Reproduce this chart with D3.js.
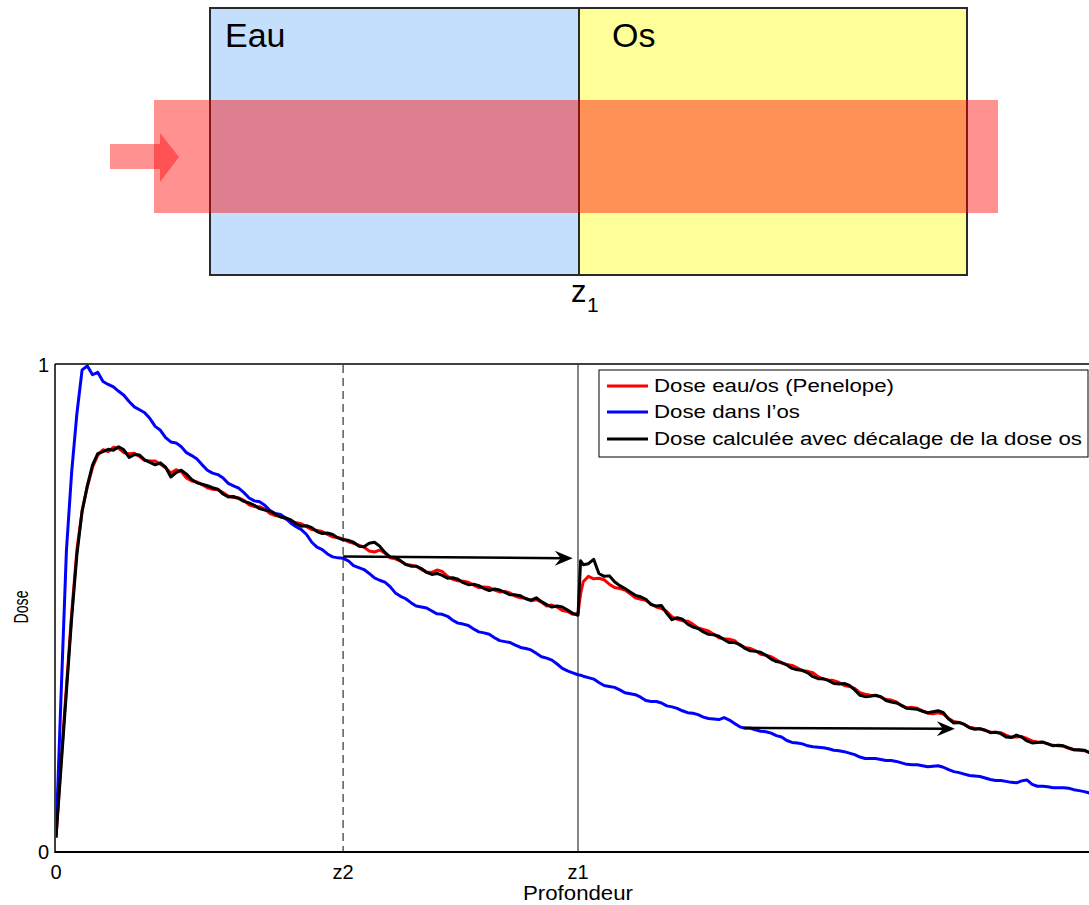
<!DOCTYPE html>
<html><head><meta charset="utf-8">
<script src="https://cdn.jsdelivr.net/npm/d3@7/dist/d3.min.js"></script>
<style>body{margin:0;background:#fff}svg{display:block}text{font-family:"Liberation Sans",Arial,sans-serif}</style>
</head><body>
<svg id="c" width="1089" height="905"></svg>
<script>
// ---- data ----
const depth = [0,0.1,0.2,0.3,0.4,0.5,0.6,0.7,0.8,0.9,1.0,1.1,1.2,1.3,1.4,1.5,1.6,1.7,1.8,1.9,2.0,2.1,2.2,2.3,2.4,2.5,2.6,2.7,2.8,2.9,3.0,3.1,3.2,3.3,3.4,3.5,3.6,3.7,3.8,3.9,4.0,4.1,4.2,4.3,4.4,4.5,4.6,4.7,4.8,4.9,5.0,5.1,5.2,5.3,5.4,5.5,5.6,5.7,5.8,5.9,6.0,6.1,6.2,6.3,6.4,6.5,6.6,6.7,6.8,6.9,7.0,7.1,7.2,7.3,7.4,7.5,7.6,7.7,7.8,7.9,8.0,8.1,8.2,8.3,8.4,8.5,8.6,8.7,8.8,8.9,9.0,9.1,9.2,9.3,9.4,9.5,9.6,9.7,9.8,9.9,10.0,10.05,10.1,10.2,10.3,10.4,10.5,10.6,10.7,10.8,10.9,11.0,11.1,11.2,11.3,11.4,11.5,11.6,11.7,11.8,11.9,12.0,12.1,12.2,12.3,12.4,12.5,12.6,12.7,12.8,12.9,13.0,13.1,13.2,13.3,13.4,13.5,13.6,13.7,13.8,13.9,14.0,14.1,14.2,14.3,14.4,14.5,14.6,14.7,14.8,14.9,15.0,15.1,15.2,15.3,15.4,15.5,15.6,15.7,15.8,15.9,16.0,16.1,16.2,16.3,16.4,16.5,16.6,16.7,16.8,16.9,17.0,17.1,17.2,17.3,17.4,17.5,17.6,17.7,17.8,17.9,18.0,18.1,18.2,18.3,18.4,18.5,18.6,18.7,18.8,18.9,19.0,19.1,19.2,19.3,19.4,19.5,19.6,19.7,19.8,19.9,20.0];
const doseEauOs = [0.03,0.19,0.34,0.49,0.62,0.70,0.75,0.79,0.815,0.826,0.822,0.831,0.829,0.82,0.818,0.819,0.812,0.804,0.803,0.803,0.796,0.789,0.778,0.785,0.781,0.768,0.762,0.76,0.754,0.748,0.745,0.744,0.738,0.731,0.728,0.727,0.722,0.713,0.709,0.709,0.704,0.695,0.691,0.689,0.684,0.678,0.676,0.674,0.668,0.662,0.66,0.658,0.652,0.647,0.646,0.643,0.637,0.634,0.63,0.626,0.618,0.616,0.62,0.614,0.604,0.602,0.597,0.591,0.589,0.587,0.58,0.575,0.574,0.579,0.576,0.566,0.56,0.557,0.556,0.554,0.548,0.543,0.544,0.543,0.538,0.534,0.535,0.532,0.525,0.522,0.521,0.516,0.518,0.513,0.505,0.507,0.503,0.496,0.494,0.488,0.49,0.53,0.555,0.566,0.561,0.562,0.559,0.55,0.543,0.541,0.538,0.53,0.522,0.519,0.517,0.509,0.503,0.5,0.494,0.483,0.478,0.475,0.474,0.468,0.46,0.457,0.454,0.447,0.44,0.438,0.437,0.434,0.425,0.42,0.418,0.413,0.406,0.404,0.401,0.395,0.388,0.385,0.383,0.378,0.372,0.371,0.368,0.36,0.355,0.353,0.352,0.348,0.342,0.34,0.336,0.327,0.324,0.322,0.321,0.318,0.313,0.312,0.308,0.3,0.296,0.297,0.295,0.29,0.285,0.284,0.286,0.283,0.274,0.268,0.266,0.262,0.256,0.254,0.253,0.25,0.246,0.246,0.245,0.24,0.236,0.236,0.237,0.233,0.228,0.226,0.225,0.222,0.219,0.218,0.217,0.213,0.21,0.209,0.208,0.204,0.203,0.2];
const doseOs = [0.03,0.33,0.62,0.78,0.9,0.99,0.998,0.98,0.985,0.966,0.96,0.955,0.946,0.938,0.925,0.914,0.908,0.902,0.89,0.874,0.866,0.851,0.842,0.84,0.832,0.82,0.814,0.807,0.795,0.784,0.778,0.775,0.768,0.757,0.752,0.747,0.738,0.727,0.721,0.719,0.712,0.701,0.695,0.693,0.686,0.675,0.668,0.662,0.652,0.636,0.626,0.621,0.612,0.606,0.604,0.603,0.598,0.588,0.584,0.58,0.572,0.563,0.558,0.554,0.545,0.532,0.525,0.52,0.512,0.505,0.503,0.501,0.495,0.489,0.488,0.484,0.476,0.47,0.468,0.465,0.458,0.452,0.45,0.447,0.44,0.434,0.432,0.43,0.425,0.42,0.418,0.415,0.408,0.401,0.398,0.394,0.386,0.377,0.372,0.368,0.364,0.363,0.361,0.358,0.355,0.348,0.342,0.34,0.338,0.333,0.327,0.325,0.323,0.318,0.311,0.309,0.309,0.306,0.3,0.298,0.295,0.29,0.286,0.285,0.282,0.277,0.274,0.273,0.272,0.276,0.271,0.264,0.257,0.254,0.254,0.251,0.248,0.247,0.244,0.239,0.236,0.229,0.225,0.224,0.222,0.218,0.216,0.215,0.214,0.212,0.209,0.208,0.206,0.203,0.2,0.195,0.192,0.192,0.192,0.19,0.188,0.188,0.186,0.183,0.18,0.179,0.179,0.177,0.175,0.176,0.177,0.174,0.169,0.165,0.163,0.16,0.157,0.156,0.155,0.152,0.149,0.147,0.147,0.145,0.143,0.142,0.146,0.148,0.139,0.135,0.135,0.134,0.132,0.132,0.132,0.131,0.128,0.126,0.124,0.121,0.12,0.118];
const doseCalc = [0.03,0.18,0.33,0.48,0.61,0.7,0.752,0.795,0.818,0.822,0.827,0.825,0.832,0.826,0.81,0.816,0.815,0.805,0.8,0.795,0.799,0.79,0.77,0.779,0.784,0.776,0.765,0.758,0.755,0.752,0.748,0.745,0.735,0.729,0.73,0.726,0.72,0.717,0.712,0.705,0.702,0.7,0.694,0.688,0.686,0.682,0.674,0.669,0.67,0.666,0.658,0.654,0.655,0.652,0.645,0.641,0.64,0.636,0.628,0.627,0.634,0.636,0.628,0.615,0.606,0.605,0.598,0.59,0.587,0.587,0.582,0.574,0.57,0.572,0.568,0.562,0.563,0.56,0.553,0.549,0.55,0.547,0.541,0.537,0.54,0.538,0.533,0.528,0.528,0.526,0.52,0.517,0.522,0.514,0.508,0.503,0.505,0.503,0.497,0.49,0.486,0.598,0.59,0.592,0.601,0.572,0.566,0.567,0.555,0.547,0.541,0.534,0.527,0.524,0.519,0.508,0.505,0.506,0.49,0.477,0.481,0.478,0.468,0.462,0.459,0.452,0.447,0.446,0.443,0.436,0.43,0.43,0.426,0.418,0.413,0.412,0.41,0.404,0.396,0.391,0.389,0.384,0.377,0.374,0.373,0.368,0.36,0.356,0.356,0.352,0.346,0.345,0.346,0.342,0.333,0.322,0.319,0.32,0.322,0.319,0.311,0.308,0.306,0.301,0.295,0.294,0.293,0.289,0.286,0.288,0.29,0.286,0.273,0.265,0.266,0.262,0.255,0.252,0.253,0.25,0.245,0.246,0.243,0.236,0.235,0.24,0.236,0.228,0.224,0.225,0.226,0.222,0.218,0.219,0.218,0.214,0.21,0.21,0.209,0.204,0.201,0.2];
const seriesNames = ["Dose eau/os (Penelope)", "Dose dans l\u2019os", "Dose calcul\u00e9e avec d\u00e9calage de la dose os"];
const seriesColors = ["#ff0000", "#0000ff", "#000000"];
const xTickValues = [0, 5.5, 10];
const xTickLabels = ["0", "z2", "z1"];
const yTickValues = [0, 1];
const yTickLabels = ["0", "1"];
const arrowStart = [[5.5, 0.607], [13.17, 0.255]];
const arrowEnd = [[9.9, 0.603], [17.22, 0.253]];

// ---- chart ----
const svg = d3.select("#c");
const x = d3.scaleLinear().domain([0, 20]).range([56, 1100]);
const y = d3.scaleLinear().domain([0, 1]).range([852, 365]);

// top diagram
const diag = svg.append("g");
diag.append("rect").attr("x",210).attr("y",8).attr("width",369).attr("height",267).attr("fill","#c3dffb");
diag.append("rect").attr("x",579).attr("y",8).attr("width",388).attr("height",267).attr("fill","#ffff99");
diag.append("rect").attr("x",210).attr("y",8).attr("width",757).attr("height",267).attr("fill","none").attr("stroke","#2a2a2a").attr("stroke-width",2);
diag.append("line").attr("x1",579).attr("x2",579).attr("y1",8).attr("y2",275).attr("stroke","#2a2a2a").attr("stroke-width",2);
diag.append("rect").attr("x",154).attr("y",100).attr("width",844).attr("height",113).attr("fill","#ff0000").attr("fill-opacity",0.43);
diag.append("path").attr("d","M110,144 L160,144 L160,133 L179,157 L160,182 L160,169 L110,169 Z").attr("fill","#ff0000").attr("fill-opacity",0.43);
diag.append("text").attr("x",225).attr("y",47).attr("font-size",34).text("Eau");
diag.append("text").attr("x",612).attr("y",47).attr("font-size",34).text("Os");
diag.append("text").attr("x",571).attr("y",302).attr("font-size",31).text("z");
diag.append("text").attr("x",587).attr("y",312).attr("font-size",21).text("1");

// plot area
const defs = svg.append("defs");
defs.append("clipPath").attr("id","clip").append("rect").attr("x",56).attr("y",360).attr("width",1100).attr("height",494);

// reference lines
svg.append("line").attr("x1",x(5.5)).attr("x2",x(5.5)).attr("y1",y(1)).attr("y2",y(0))
  .attr("stroke","#333").attr("stroke-width",1.2).attr("stroke-dasharray","8,5");
svg.append("line").attr("x1",x(10)).attr("x2",x(10)).attr("y1",y(1)).attr("y2",y(0))
  .attr("stroke","#333").attr("stroke-width",1.2);

const line = d3.line().x((d,i)=>x(depth[i])).y(d=>y(d));
const g = svg.append("g").attr("clip-path","url(#clip)");
[doseEauOs, doseOs, doseCalc].forEach((s,k)=>{
  g.append("path").datum(s).attr("d",line).attr("fill","none").attr("stroke",seriesColors[k])
   .attr("stroke-width",3).attr("stroke-linejoin","round");
});

// arrows
arrowStart.forEach((s,i)=>{
  const e = arrowEnd[i];
  const x1=x(s[0]), y1=y(s[1]), x2=x(e[0]), y2=y(e[1]);
  const ang = Math.atan2(y2-y1, x2-x1)*180/Math.PI;
  svg.append("line").attr("x1",x1).attr("y1",y1).attr("x2",x2-8).attr("y2",y2).attr("stroke","#000").attr("stroke-width",2.5);
  svg.append("path").attr("d","M0,0 L-18,-7.5 L-12,0 L-18,7.5 Z").attr("fill","#000")
    .attr("transform",`translate(${x2},${y2}) rotate(${ang})`);
});

// axes box
svg.append("line").attr("x1",55).attr("x2",1100).attr("y1",y(0)).attr("y2",y(0)).attr("stroke","#000").attr("stroke-width",2);
svg.append("line").attr("x1",55).attr("x2",1100).attr("y1",y(1)-1).attr("y2",y(1)-1).attr("stroke","#000").attr("stroke-width",1.5);
svg.append("line").attr("x1",55).attr("x2",55).attr("y1",y(1)-1).attr("y2",y(0)+1).attr("stroke","#000").attr("stroke-width",1.5);

// tick labels
xTickValues.forEach((v,i)=>{
  svg.append("text").attr("x",x(v)).attr("y",879).attr("text-anchor","middle").attr("font-size",20).text(xTickLabels[i]);
});
yTickValues.forEach((v,i)=>{
  svg.append("text").attr("x",49).attr("y",y(v)+7).attr("text-anchor","end").attr("font-size",20).text(yTickLabels[i]);
});
svg.append("text").attr("x",578).attr("y",900).attr("text-anchor","middle").attr("font-size",20)
  .attr("textLength",110).attr("lengthAdjust","spacingAndGlyphs").text("Profondeur");
svg.append("text").attr("transform","translate(28,607) rotate(-90)").attr("text-anchor","middle").attr("font-size",20)
  .attr("textLength",33).attr("lengthAdjust","spacingAndGlyphs").text("Dose");

// legend
const lg = svg.append("g");
lg.append("rect").attr("x",599).attr("y",370).attr("width",489).attr("height",87).attr("fill","#fff").attr("stroke","#000").attr("stroke-width",1);
const lw = [240,146,428];
const ly = [386,412,439];
seriesNames.forEach((n,i)=>{
  lg.append("line").attr("x1",607).attr("x2",648).attr("y1",ly[i]).attr("y2",ly[i]).attr("stroke",seriesColors[i]).attr("stroke-width",3);
  lg.append("text").attr("x",654).attr("y",ly[i]+6).attr("font-size",18).attr("textLength",lw[i]).attr("lengthAdjust","spacingAndGlyphs").text(n);
});
</script>
</body></html>
